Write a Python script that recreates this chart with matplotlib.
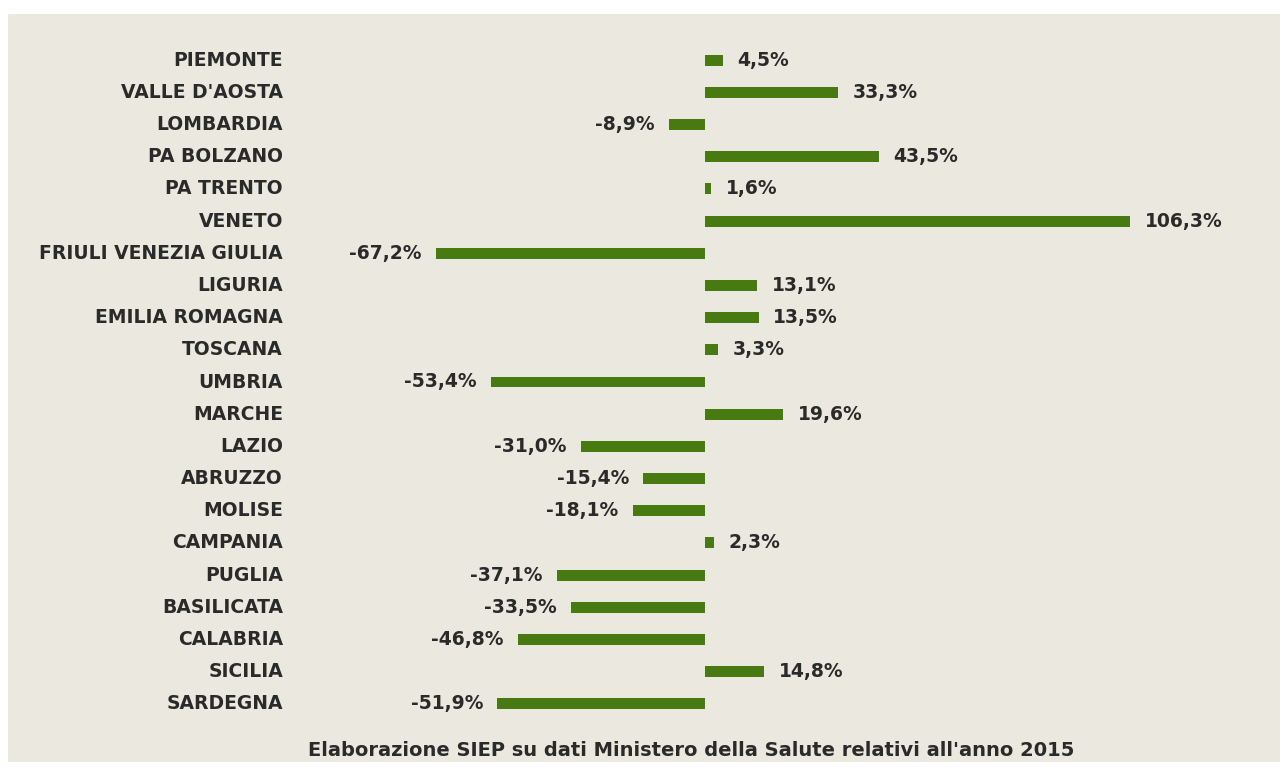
import matplotlib
matplotlib.use("Agg")
import matplotlib.pyplot as plt

regions = ["PIEMONTE", "VALLE D'AOSTA", "LOMBARDIA", "PA BOLZANO", "PA TRENTO",
           "VENETO", "FRIULI VENEZIA GIULIA", "LIGURIA", "EMILIA ROMAGNA",
           "TOSCANA", "UMBRIA", "MARCHE", "LAZIO", "ABRUZZO", "MOLISE",
           "CAMPANIA", "PUGLIA", "BASILICATA", "CALABRIA", "SICILIA", "SARDEGNA"]
values = [4.5, 33.3, -8.9, 43.5, 1.6, 106.3, -67.2, 13.1, 13.5, 3.3, -53.4,
          19.6, -31.0, -15.4, -18.1, 2.3, -37.1, -33.5, -46.8, 14.8, -51.9]
footer = "Elaborazione SIEP su dati Ministero della Salute relativi all'anno 2015"

W, H = 1286, 767
fig = plt.figure(figsize=(W / 100, H / 100), dpi=100)
fig.patch.set_facecolor("white")

# beige panel behind the chart
bg = fig.add_axes([8 / W, 1 - 762 / H, 1272 / W, 748 / H])
bg.set_facecolor("#ebe9df")
bg.set_xticks([])
bg.set_yticks([])
for s in bg.spines.values():
    s.set_visible(False)

# axes: px 300..1270 horizontally, 44..720 vertically; zero at px 705, 4 px per %
left, right, top, bottom = 300, 1270, 44, 720
ax = fig.add_axes([left / W, 1 - bottom / H, (right - left) / W, (bottom - top) / H])
ax.set_facecolor("none")
ax.set_xlim(-(705 - left) / 4, (right - 705) / 4)
ax.set_ylim(len(regions) - 0.5, -0.5)

green = "#487a12"
txt = "#2a2a2a"
fs = 13.5
pos = list(range(len(regions)))
ax.barh(pos, values, height=0.34, color=green)

for y, v in zip(pos, values):
    lab = f"{v:.1f}%".replace(".", ",")
    if v >= 0:
        ax.text(v + 3.6, y, lab, ha="left", va="center", fontsize=fs,
                fontweight="bold", color=txt)
    else:
        ax.text(v - 3.6, y, lab, ha="right", va="center", fontsize=fs,
                fontweight="bold", color=txt)
    ax.text(-(705 - 283) / 4, y, regions[y], ha="right", va="center",
            fontsize=fs, fontweight="bold", color=txt, clip_on=False)

ax.axis("off")

fig.text(691 / W, 1 - 750 / H, footer, ha="center", va="center",
         fontsize=14, fontweight="bold", color=txt)

fig.savefig("out.png", dpi=100, facecolor="white")
